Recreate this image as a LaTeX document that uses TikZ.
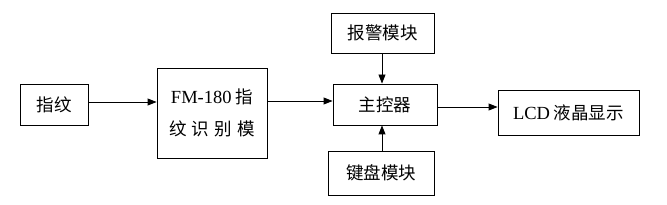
\documentclass[tikz,border=0pt]{standalone}
\usepackage{fontspec}
\setmainfont{Liberation Serif}
\newfontfamily\cjk{Noto Sans CJK SC}
\usetikzlibrary{arrows.meta}
\begin{document}
\begin{tikzpicture}[x=1pt,y=-1pt,
  blk/.style={draw,line width=0.9pt,inner sep=0pt,font=\fontsize{17.5}{22}\selectfont\cjk},
  lat/.style={},
  conn/.style={line width=0.9pt,-{Triangle[length=9pt,width=7pt]}}]
\useasboundingbox (0,0) rectangle (667,205);
\node[blk,minimum width=68pt,minimum height=41pt] (fp) at (54,104.5) {指纹};
\node[blk,minimum width=110pt,minimum height=90pt,align=center] (fm) at (212,113)
  {{\fontsize{18.5}{22}\selectfont\rmfamily FM-180} 指\\[10pt]纹\hspace{0.3em}识\hspace{0.3em}别\hspace{0.3em}模};
\node[blk,minimum width=103pt,minimum height=40pt] (alarm) at (382.5,33) {报警模块};
\node[blk,minimum width=104pt,minimum height=41pt] (mcu) at (385,104.5) {主控器};
\node[blk,minimum width=106pt,minimum height=44pt] (kb) at (381,173) {键盘模块};
\node[blk,minimum width=141pt,minimum height=45pt] (lcd) at (568.5,112.5) {{\fontsize{18.5}{22}\selectfont\rmfamily LCD} 液晶显示};
\draw[conn] (fp.east |- 0,102) -- (fm.west |- 0,102);
\draw[conn] (fm.east |- 0,101) -- (mcu.west |- 0,101);
\draw[conn] (alarm.south -| 382,0) -- (mcu.north -| 382,0);
\draw[conn] (kb.north -| 382,0) -- (mcu.south -| 382,0);
\draw[conn] (mcu.east |- 0,107) -- (lcd.west |- 0,107);
\end{tikzpicture}
\end{document}
